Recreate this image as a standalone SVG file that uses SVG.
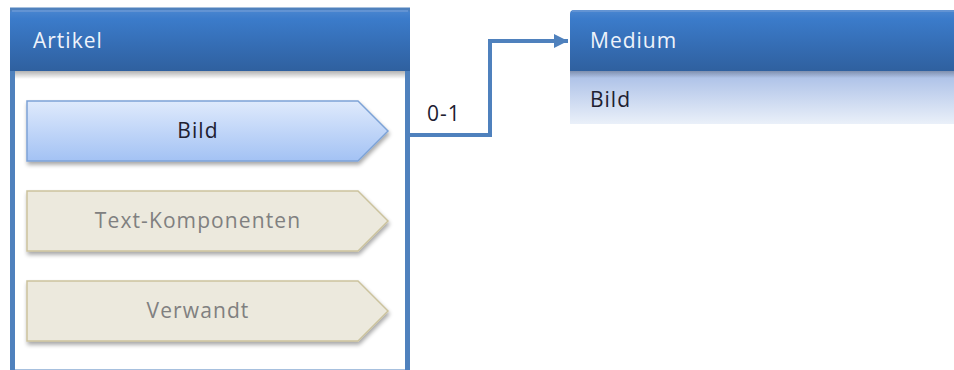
<svg xmlns="http://www.w3.org/2000/svg" width="954" height="370" viewBox="0 0 954 370">
<defs>
<linearGradient id="hdr" x1="0" y1="0" x2="0" y2="1">
<stop offset="0" stop-color="#4a86d0"/>
<stop offset="0.15" stop-color="#3b7bca"/>
<stop offset="1" stop-color="#2f609f"/>
</linearGradient>
<linearGradient id="blueItem" x1="0" y1="0" x2="0" y2="1">
<stop offset="0" stop-color="#dfeafc"/>
<stop offset="1" stop-color="#a3c2f4"/>
</linearGradient>
<linearGradient id="band" x1="0" y1="0" x2="0" y2="1">
<stop offset="0" stop-color="#a7bde6"/>
<stop offset="1" stop-color="#eaf0f9"/>
</linearGradient>
<linearGradient id="hshadow" x1="0" y1="0" x2="0" y2="1">
<stop offset="0" stop-color="#000" stop-opacity="0.3"/>
<stop offset="1" stop-color="#000" stop-opacity="0"/>
</linearGradient>
<filter id="ds" x="-10%" y="-20%" width="120%" height="150%">
<feGaussianBlur in="SourceAlpha" stdDeviation="2"/>
<feOffset dx="1" dy="3" result="b"/>
<feComponentTransfer><feFuncA type="linear" slope="0.35"/></feComponentTransfer>
<feMerge><feMergeNode/><feMergeNode in="SourceGraphic"/></feMerge>
</filter>
<marker id="arr" viewBox="0 0 10 10" refX="10" refY="5" markerWidth="4.5" markerHeight="3.5" markerUnits="strokeWidth" orient="auto">
<path d="M0,0 L10,5 L0,10 z" fill="#4f81bd"/>
</marker>
</defs>
<style>
.hdrtxt{font-family:"Open Sans","Noto Sans",sans-serif;font-size:21px;fill:#eef3fb;letter-spacing:1px}
.itemtxt{font-family:"Open Sans","Noto Sans",sans-serif;font-size:21px;text-anchor:middle;letter-spacing:1.1px}
.dark{fill:#202030}
.gray{fill:#808080}
.beige{fill:#ece9dd;stroke:#cbc29d;stroke-width:1.5}
.bluep{fill:url(#blueItem);stroke:#7da2d6;stroke-width:1.5}
.conn{fill:none;stroke:#4f81bd;stroke-width:4;stroke-linejoin:miter}
</style>
<g id="artikel">
<rect x="12.5" y="10" width="395" height="362" fill="#ffffff" stroke="#4f81bd" stroke-width="5"/>
<path d="M10,14 Q10,10 14,10 L406,10 Q410,10 410,14 L410,71 L10,71 z" fill="url(#hdr)"/>
<line x1="12" y1="11" x2="408" y2="11" stroke="#6b98d4" stroke-width="1.5"/>
<rect x="15" y="71" width="390" height="8" fill="url(#hshadow)"/>
<text class="hdrtxt" x="33" y="48">Artikel</text>
</g>
<g id="item-bild">
<path class="bluep" filter="url(#ds)" d="M27,101 L358,101 L388,131 L358,161 L27,161 z"/>
<text class="itemtxt dark" x="198" y="138">Bild</text>
</g>
<g id="item-text">
<path class="beige" filter="url(#ds)" d="M27,191 L358,191 L388,221 L358,251 L27,251 z"/>
<text class="itemtxt gray" x="198" y="228">Text-Komponenten</text>
</g>
<g id="item-verwandt">
<path class="beige" filter="url(#ds)" d="M27,281 L358,281 L388,311 L358,341 L27,341 z"/>
<text class="itemtxt gray" x="198" y="318">Verwandt</text>
</g>
<g id="medium">
<rect x="570" y="71" width="384" height="53" fill="url(#band)"/>
<path d="M570,14 Q570,10 574,10 L954,10 L954,71 L570,71 z" fill="url(#hdr)"/>
<line x1="572" y1="11" x2="954" y2="11" stroke="#6b98d4" stroke-width="1.5"/>
<rect x="570" y="71" width="384" height="7" fill="url(#hshadow)" opacity="0.8"/>
<text class="hdrtxt" x="590" y="48">Medium</text>
<text class="hdrtxt" x="590" y="107" style="fill:#202030">Bild</text>
</g>
<g id="connectors">
<path class="conn" d="M410,135 L490,135 L490,41 L568,41" marker-end="url(#arr)"/>
<text x="427" y="121" style="font-family:'Open Sans','Noto Sans',sans-serif;font-size:21px;fill:#202030;letter-spacing:1px">0-1</text>
</g>
</svg>
